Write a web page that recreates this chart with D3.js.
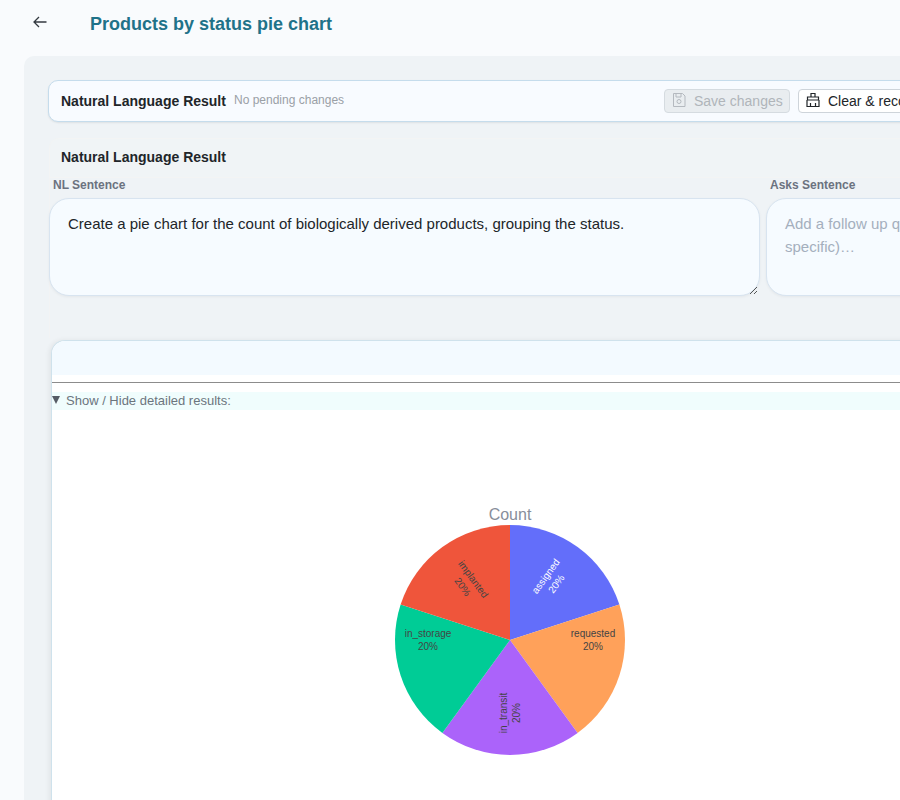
<!DOCTYPE html>
<html>
<head>
<meta charset="utf-8">
<script src="https://cdn.jsdelivr.net/npm/d3@7"></script>
<style>
  html, body { margin: 0; width: 900px; height: 800px; overflow: hidden; background: #f9fbfd; font-family: "Liberation Sans", Arial, sans-serif; }
  .box { position: absolute; box-sizing: border-box; }
  .txt { position: absolute; white-space: nowrap; line-height: 1; }
  .nl { font-weight: bold; font-size: 14px; color: #212529; }
  .lab { font-weight: bold; font-size: 12px; color: #6b7280; }
  .area { background: #f6fbff; border: 1px solid #d8e4f0; border-radius: 20px; box-shadow: 0 1px 3px rgba(0,0,0,.05); }
  #pie { position: absolute; left: 0; top: 0; }
</style>
</head>
<body>
<svg class="box" style="left:30px;top:12px" width="20" height="20" viewBox="0 0 20 20" fill="none" stroke="#343a40" stroke-width="1.3">
  <path d="M16.5 10H4M9 5l-5 5 5 5"/>
</svg>
<div class="txt" style="left:90px;top:15px;font-size:18px;font-weight:bold;color:#1f7289">Products by status pie chart</div>

<div class="box" style="left:24px;top:56px;width:900px;height:780px;background:#eff3f6;border-radius:10px"></div>

<div class="box" style="left:48px;top:80px;width:900px;height:42px;background:#f8fbff;border:1px solid #c5dcec;border-radius:10px;box-shadow:0 1px 2px rgba(0,0,0,.08)"></div>
<div class="txt nl" style="left:61px;top:94px">Natural Language Result</div>
<div class="txt" style="left:234px;top:94px;font-size:12px;color:#9aa0a6">No pending changes</div>

<div class="box" style="left:664px;top:89px;width:126px;height:24px;background:#e9edf0;border:1px solid #d5dbe0;border-radius:4px"></div>
<svg class="box" style="left:671px;top:92px" width="16" height="16" viewBox="0 0 16 16" fill="none" stroke="#b4b9bf" stroke-width="1">
  <path d="M2.5 1.5h9l2.5 2.5v10.500h-11.500zM5 1.500v3.500h5v-3.500"/><circle cx="8" cy="9.500" r="2"/>
</svg>
<div class="txt" style="left:694px;top:94px;font-size:14px;color:#b0b5ba">Save changes</div>
<div class="box" style="left:798px;top:89px;width:140px;height:24px;background:#fff;border:1px solid #ced4da;border-radius:4px"></div>
<svg class="box" style="left:805px;top:92px" width="16" height="16" viewBox="0 0 16 16" fill="none" stroke="#212529" stroke-width="1.200">
  <path d="M6 5V1.500h4V5M2.500 5h11v3h-11zM2 8v6.500h12V8M5.500 11v3.500M10.500 11v3.500"/>
</svg>
<div class="txt" style="left:828px;top:94px;font-size:14px;color:#212529">Clear &amp; recompute</div>

<div class="box" style="left:49px;top:138px;width:900px;height:40px;border:1px solid #f3f4f4;border-radius:10px 0 0 0;background:#f0f4f6"></div>
<div class="box" style="left:49px;top:178px;width:1px;height:160px;background:#f2f3f4"></div>
<div class="txt nl" style="left:61px;top:150px">Natural Language Result</div>
<div class="txt lab" style="left:53px;top:179px">NL Sentence</div>
<div class="txt lab" style="left:770px;top:179px">Asks Sentence</div>

<div class="box area" style="left:49px;top:198px;width:711px;height:98px"></div>
<div class="txt" style="left:68px;top:216px;font-size:15px;color:#212529">Create a pie chart for the count of biologically derived products, grouping the status.</div>
<svg class="box" style="left:748px;top:285px" width="11" height="11" stroke="#555" stroke-width="1">
  <path d="M2 9L9 2M6 9l3-3"/>
</svg>
<div class="box area" style="left:766px;top:198px;width:300px;height:98px"></div>
<div class="txt" style="left:785px;top:216px;font-size:15px;color:#a4afbd">Add a follow up question (be</div>
<div class="txt" style="left:785px;top:239px;font-size:15px;color:#a4afbd">specific)…</div>

<div class="box" style="left:51px;top:340px;width:900px;height:480px;background:#fff;border:1px solid #cfe2ec;border-bottom:none;border-radius:14px 0 0 0;box-shadow:-2px 0 5px rgba(0,0,0,.06)"></div>
<div class="box" style="left:52px;top:341px;width:900px;height:34px;background:#f3faff;border-radius:13px 0 0 0"></div>
<div class="box" style="left:52px;top:382px;width:900px;height:1px;background:#8c8c8c"></div>
<div class="box" style="left:52px;top:392px;width:900px;height:18px;background:#f0fdfd"></div>
<div class="box" style="left:52px;top:396px;width:0;height:0;border-left:4.500px solid transparent;border-right:4.500px solid transparent;border-top:8px solid #555c66"></div>
<div class="txt" style="left:66px;top:394px;font-size:13px;color:#6c757d">Show / Hide detailed results:</div>

<svg id="pie" width="900" height="800"></svg>

<script>
const categories = ['assigned', 'requested', 'in_transit', 'in_storage', 'implanted'];
const counts = [1, 1, 1, 1, 1];
const colors = ['#636efa', '#ffa15a', '#ab63fa', '#00cc96', '#ef553b'];
const chartTitle = 'Count';

// label placement of each slice, relative to pie centre, like plotly puts them
const labelDx = [41, 83, 0, -82, -42];
const labelDy = [-60, 0, 73, 0, -57];
const labelRot = [-54, 0, -90, 0, 54];
const labelFill = ['#fff', '#444', '#444', '#444', '#444'];

let cx = 510, cy = 640, radius = 115;

let svg = d3.select('#pie');
let g = svg.append('g').attr('transform', 'translate(' + [cx, cy].join(',') + ')');

let pie = d3.pie().sort(null).value(d => d);
let arc = d3.arc().innerRadius(0).outerRadius(radius);
let total = d3.sum(counts);
let slices = pie(counts);

g.selectAll('path.slice').data(slices).enter().append('path')
    .attr('class', 'slice')
    .attr('d', arc)
    .attr('fill', (d, i) => colors[i]);

let labels = g.selectAll('g.slice-label').data(slices).enter().append('g')
    .attr('class', 'slice-label')
    .attr('transform', (d, i) => 'translate(' + labelDx[i] + ',' + labelDy[i] + ') rotate(' + labelRot[i] + ')')
    .attr('fill', (d, i) => labelFill[i])
    .style('font-family', '"Liberation Sans", Arial, sans-serif')
    .style('font-size', '10px')
    .attr('text-anchor', 'middle');

labels.append('text').attr('y', -3).text((d, i) => categories[i]);
labels.append('text').attr('y', 10).text(d => d3.format('.0%')(d.value / total));

svg.append('text')
    .attr('x', cx)
    .attr('y', 520)
    .attr('text-anchor', 'middle')
    .attr('fill', '#878e9b')
    .style('font-family', '"Liberation Sans", Arial, sans-serif')
    .style('font-size', '16px')
    .text(chartTitle);
</script>
</body>
</html>
